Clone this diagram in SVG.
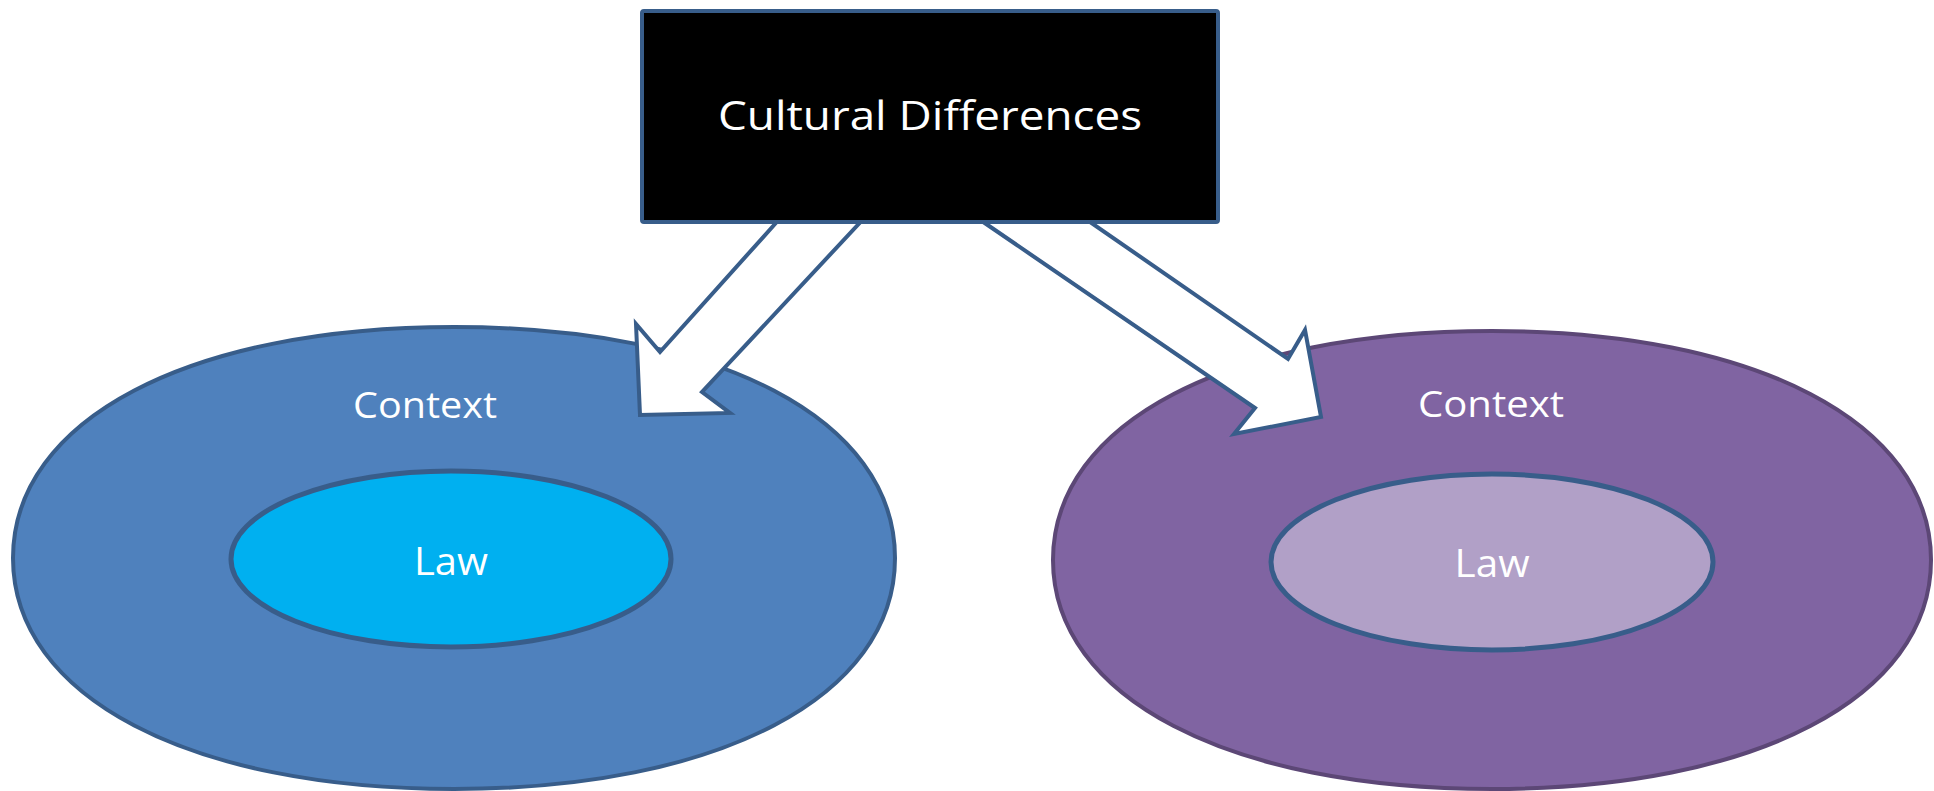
<svg xmlns="http://www.w3.org/2000/svg" width="1934" height="791" viewBox="0 0 1934 791">
<style>
.lbl{font-family:"Open Sans","Liberation Sans",sans-serif;fill:#ffffff;text-anchor:middle}
.arrow{fill:#ffffff;stroke:#385D8A;stroke-width:4;stroke-linejoin:miter}
</style>
<rect width="1934" height="791" fill="#ffffff"/>
<g id="context-left">
<path d="M13,558 C13,419.4 189.4,327 454,327 C718.6,327 895,419.4 895,558 C895,696.6 718.6,789 454,789 C189.4,789 13,696.6 13,558 Z" fill="#4F81BD" stroke="#385D8A" stroke-width="4"/>
<text class="lbl" x="425" y="418" font-size="36" textLength="144" lengthAdjust="spacingAndGlyphs">Context</text>
</g>
<g id="law-left">
<ellipse cx="451" cy="559" rx="220" ry="88" fill="#00B0F0" stroke="#385D8A" stroke-width="5"/>
<text class="lbl" x="451" y="575" font-size="39" textLength="74" lengthAdjust="spacingAndGlyphs">Law</text>
</g>
<g id="context-right">
<path d="M1053,560 C1053,422.6 1228.6,331 1492,331 C1755.4,331 1931,422.6 1931,560 C1931,697.4 1755.4,789 1492,789 C1228.6,789 1053,697.4 1053,560 Z" fill="#8064A2" stroke="#5C4776" stroke-width="4"/>
<text class="lbl" x="1491" y="417" font-size="36" textLength="146" lengthAdjust="spacingAndGlyphs">Context</text>
</g>
<g id="law-right">
<ellipse cx="1492" cy="562" rx="221" ry="88" fill="#B1A0C7" stroke="#385D8A" stroke-width="5"/>
<text class="lbl" x="1492" y="577" font-size="39" textLength="75" lengthAdjust="spacingAndGlyphs">Law</text>
</g>
<g id="connectors">
<polygon class="arrow" points="783,215 660,352 636,324 640,415 730,413 702,392 867,215"/>
<polygon class="arrow" points="973,215 1255,408 1234,434 1321,417 1305,330 1288,359 1080,215"/>
</g>
<g id="cultural-differences">
<rect x="642" y="11" width="576" height="211" rx="2" fill="#000000" stroke="#385D8A" stroke-width="4"/>
<text class="lbl" x="930" y="130" font-size="40" textLength="424" lengthAdjust="spacingAndGlyphs">Cultural Differences</text>
</g>
</svg>
